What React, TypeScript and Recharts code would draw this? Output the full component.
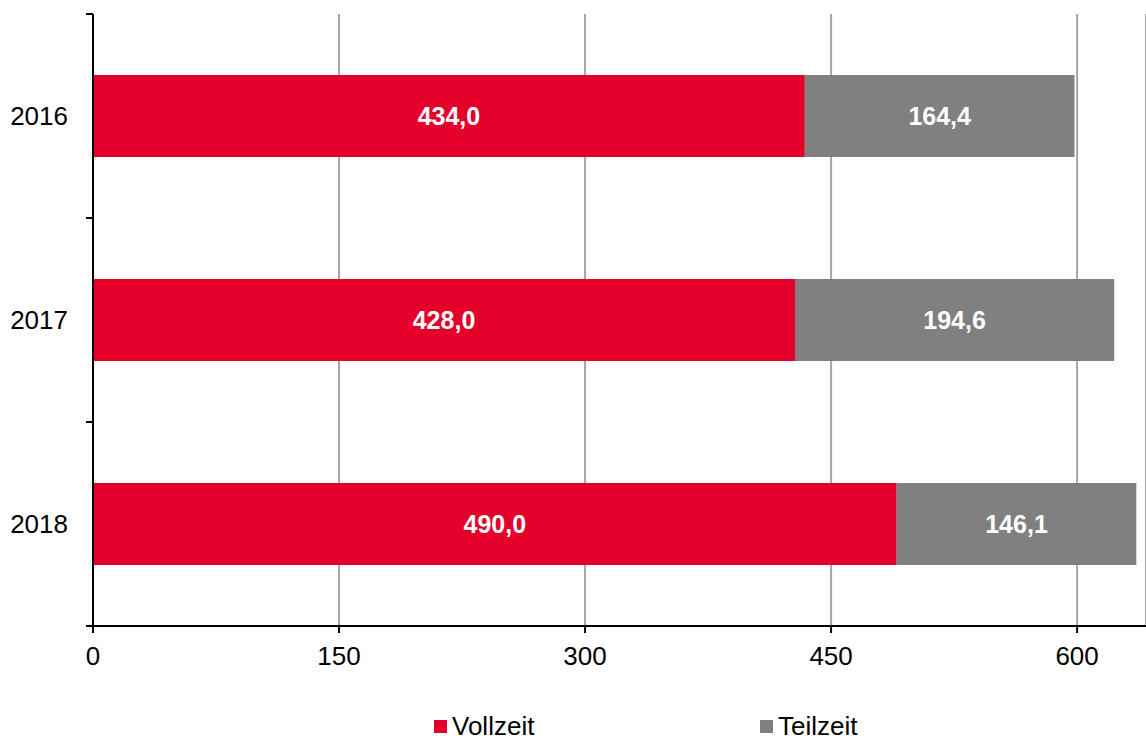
import React from 'react';
import { BarChart, Bar, XAxis, YAxis, CartesianGrid, Legend, LabelList } from 'recharts';

const years = ['2016', '2017', '2018'];
const vollzeit = [434.0, 428.0, 490.0];
const teilzeit = [164.4, 194.6, 146.1];
const xTicks = [0, 150, 300, 450, 600];

const data = years.map((y, i) => ({ year: y, Vollzeit: vollzeit[i], Teilzeit: teilzeit[i] }));

const RED = '#E4002B';
const GRAY = '#808080';
const FONT = '"Liberation Sans", Arial, sans-serif';

const fmt = (v: any) => Number(v).toFixed(1).replace('.', ',');

const YTick = (props: any) => {
  const { x, y, payload, index, visibleTicksCount } = props;
  const half = payload && payload.offset ? payload.offset : 102;
  const ax = x + 25;
  return (
    <g>
      <text x={x} y={y} dy="0.355em" textAnchor="end" fontSize={26} fill="#000" fontFamily={FONT}>
        {payload.value}
      </text>
      <line x1={ax - 7} x2={ax} y1={y - half} y2={y - half} stroke="#000" strokeWidth={2} />
      {index === visibleTicksCount - 1 ? (
        <line x1={ax - 7} x2={ax} y1={y + half} y2={y + half} stroke="#000" strokeWidth={2} />
      ) : null}
    </g>
  );
};

const LegendContent = () => (
  <div style={{ position: 'relative', width: 1146, height: 28, fontFamily: FONT, fontSize: 26, color: '#000' }}>
    {[
      { name: 'Vollzeit', color: RED, left: 434 },
      { name: 'Teilzeit', color: GRAY, left: 760 },
    ].map((it) => (
      <div key={it.name} style={{ position: 'absolute', left: it.left, top: 0, height: 28, display: 'flex', alignItems: 'center' }}>
        <span style={{ display: 'inline-block', width: 13, height: 13, background: it.color, marginRight: 5 }} />
        <span style={{ lineHeight: '28px' }}>{it.name}</span>
      </div>
    ))}
  </div>
);

export default function App() {
  return (
    <div style={{ position: 'absolute', left: 0, top: 0, width: 1146, height: 740, background: '#fff', fontFamily: FONT }}>
      <BarChart
        width={1146}
        height={740}
        data={data}
        layout="vertical"
        margin={{ top: 14, right: 0, bottom: 0, left: 0 }}
      >
        <CartesianGrid horizontal={false} stroke="#A6A6A6" strokeWidth={2} />
        <XAxis
          type="number"
          domain={[0, 642]}
          ticks={xTicks}
          allowDataOverflow
          height={86}
          tickSize={7}
          tickMargin={14}
          stroke="#000"
          axisLine={{ stroke: '#000', strokeWidth: 2 }}
          tickLine={{ stroke: '#000', strokeWidth: 2 }}
          tick={{ fontSize: 26, fill: '#000', fontFamily: FONT }}
        />
        <YAxis
          type="category"
          dataKey="year"
          width={93}
          tickSize={0}
          tickMargin={25}
          tickLine={false}
          axisLine={{ stroke: '#000', strokeWidth: 2 }}
          tick={<YTick />}
        />
        <Legend verticalAlign="bottom" height={28} wrapperStyle={{ left: 0, width: 1146 }} content={<LegendContent />} />
        <Bar dataKey="Vollzeit" stackId="a" fill={RED} barSize={82} isAnimationActive={false}>
          <LabelList dataKey="Vollzeit" position="center" fill="#fff" fontSize={25} fontWeight="bold" fontFamily={FONT} formatter={fmt} />
        </Bar>
        <Bar dataKey="Teilzeit" stackId="a" fill={GRAY} barSize={82} isAnimationActive={false}>
          <LabelList dataKey="Teilzeit" position="center" fill="#fff" fontSize={25} fontWeight="bold" fontFamily={FONT} formatter={fmt} />
        </Bar>
      </BarChart>
    </div>
  );
}
